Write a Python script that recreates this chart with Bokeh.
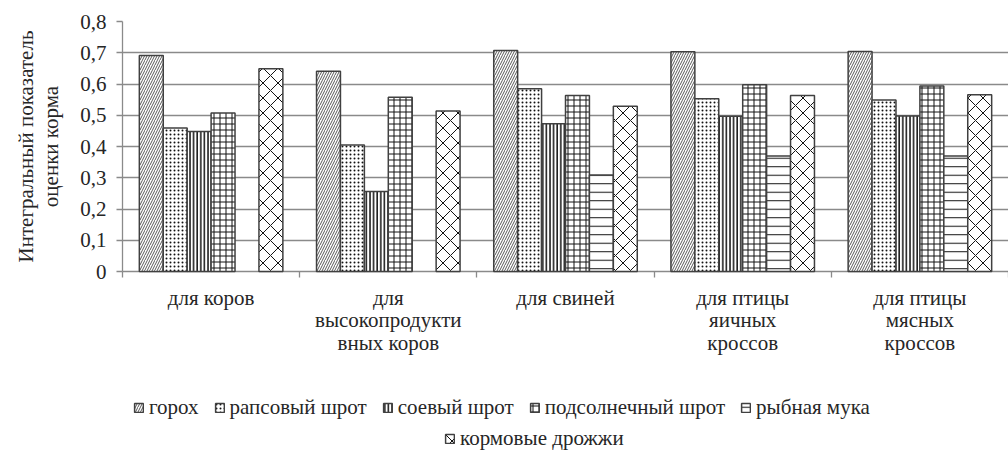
import numpy as np
from bokeh.plotting import figure
from bokeh.layouts import column
from bokeh.models import (Range1d, FixedTicker, CustomJSTickFormatter, Legend, LegendItem,
                          ColumnDataSource, CDSView, IndexFilter)
from bokeh.embed import file_html
from bokeh.resources import INLINE

# ---- data ----
categories = ["для коров", "для\nвысокопродукти\nвных коров", "для свиней",
              "для птицы\nяичных\nкроссов", "для птицы\nмясных\nкроссов"]
series_names = ["горох", "рапсовый шрот", "соевый шрот", "подсолнечный шрот",
                "рыбная мука", "кормовые дрожжи"]
gorokh = [0.691, 0.641, 0.707, 0.703, 0.704]
raps = [0.459, 0.405, 0.585, 0.553, 0.549]
soya = [0.448, 0.256, 0.473, 0.497, 0.498]
podsoln = [0.507, 0.558, 0.563, 0.598, 0.594]
ryba = [np.nan, np.nan, 0.309, 0.370, 0.370]
drozhzhi = [0.649, 0.514, 0.529, 0.563, 0.566]
y_ticks = [0, 0.1, 0.2, 0.3, 0.4, 0.5, 0.6, 0.7, 0.8]

series_values = [gorokh, raps, soya, podsoln, ryba, drozhzhi]
hatches = [
    dict(hatch_pattern="right_diagonal_line", hatch_scale=5, hatch_weight=0.7),
    dict(hatch_pattern="dot", hatch_scale=4, hatch_weight=1.2),
    dict(hatch_pattern="vertical_line", hatch_scale=3.6, hatch_weight=1.5),
    dict(hatch_pattern="cross", hatch_scale=6, hatch_weight=1.0),
    dict(hatch_pattern="horizontal_line", hatch_scale=8.5, hatch_weight=1.0),
    dict(hatch_pattern="diagonal_cross", hatch_scale=15, hatch_weight=1.0),
]

FONT = "Liberation Serif"
TXT = "#262626"
GRID = "#8a8a8a"
BAR_STYLE = dict(fill_color="white", line_color="#404040", line_width=1.5, hatch_color="#111111")

n_cat = len(categories)
bar_w = 0.135

p = figure(width=1008, height=390, x_range=Range1d(0, n_cat), y_range=Range1d(0, 0.8),
           output_backend="svg", toolbar_location=None,
           min_border_left=122, min_border_right=0, min_border_top=21, min_border_bottom=119)
p.outline_line_color = None
p.background_fill_color = "white"

sources = []
for j, (name, vals, h) in enumerate(zip(series_names, series_values, hatches)):
    xs = np.arange(n_cat) + 0.5 + (j - 2.5) * bar_w
    src = ColumnDataSource(dict(x=xs, top=np.array(vals, dtype=float)))
    sources.append(src)
    r = p.vbar(x="x", top="top", bottom=0, width=bar_w, source=src, **BAR_STYLE, **h)
    r.level = "overlay"   # hatched bars painted on their own layer, after the texts

# y axis
p.yaxis.ticker = FixedTicker(ticks=y_ticks)
p.yaxis.formatter = CustomJSTickFormatter(
    code="if (Math.abs(tick) < 1e-9) return '0'; return tick.toFixed(1).replace('.', ',');")
p.yaxis.axis_label = "Интегральный показатель\nоценки корма"
p.yaxis.axis_label_text_font = FONT
p.yaxis.axis_label_text_font_style = "normal"
p.yaxis.axis_label_text_font_size = "21px"
p.yaxis.axis_label_text_color = TXT
p.yaxis.axis_label_text_line_height = 1.05
p.yaxis.axis_label_standoff = 14
p.yaxis.major_label_text_font = FONT
p.yaxis.major_label_text_font_size = "21px"
p.yaxis.major_label_text_color = TXT
p.yaxis.major_label_standoff = 10
p.yaxis.major_tick_out = 6
p.yaxis.major_tick_in = 0
p.yaxis.minor_tick_out = 0
p.yaxis.minor_tick_in = 0
p.yaxis.axis_line_color = GRID
p.yaxis.axis_line_width = 1.3
p.yaxis.major_tick_line_color = GRID
p.yaxis.major_tick_line_width = 1.3

# x axis: labels at category centres, ticks at boundaries
p.xaxis.ticker = FixedTicker(ticks=[i + 0.5 for i in range(n_cat)],
                             minor_ticks=list(range(n_cat + 1)))
p.xaxis.major_label_overrides = {i + 0.5: c for i, c in enumerate(categories)}
p.xaxis.major_label_text_font = FONT
p.xaxis.major_label_text_font_size = "21px"
p.xaxis.major_label_text_color = TXT
p.xaxis.major_label_text_line_height = 0.95
p.xaxis.major_label_standoff = 8
p.xaxis.major_tick_out = 0
p.xaxis.major_tick_in = 0
p.xaxis.minor_tick_out = 6
p.xaxis.minor_tick_in = 0
p.xaxis.minor_tick_line_color = GRID
p.xaxis.minor_tick_line_width = 1.3
p.xaxis.axis_line_color = GRID
p.xaxis.axis_line_width = 1.3

p.xgrid.grid_line_color = None
p.ygrid.ticker = FixedTicker(ticks=y_ticks)
p.ygrid.grid_line_color = GRID
p.ygrid.grid_line_width = 1.3

# ---- legend strip ----
q = figure(width=1008, height=62, x_range=Range1d(0, n_cat), y_range=Range1d(0, 0.8),
           output_backend="svg", toolbar_location=None, min_border=0)
q.outline_line_color = None
q.axis.visible = False
q.grid.visible = False
text_renderers, glyph_renderers = [], []
for src, h in zip(sources, hatches):
    text_renderers.append(q.vbar(x="x", top="top", bottom=0, width=bar_w, source=src,
                                 view=CDSView(filter=IndexFilter(indices=[])),
                                 **BAR_STYLE, **h))
    g = q.vbar(x="x", top="top", bottom=0, width=bar_w, source=src, **BAR_STYLE, **h)
    g.visible = False
    glyph_renderers.append(g)

def make_legend(items, loc, text_alpha, level):
    return Legend(items=items, location=loc, orientation="horizontal",
                  glyph_width=11, glyph_height=11, label_standoff=5, spacing=15,
                  padding=0, margin=0, border_line_alpha=0, background_fill_alpha=0,
                  label_text_font=FONT, label_text_font_size="21px", label_text_color=TXT,
                  label_text_alpha=text_alpha, label_height=22, level=level)

rows = [(list(range(5)), (11, 32)), ([5], (322, 1))]
# labels (no hatch) on the main layer, hatched keys on the overlay layer
for idx, loc in rows:
    q.add_layout(make_legend([LegendItem(label=series_names[k], renderers=[text_renderers[k]])
                              for k in idx], loc, 1.0, "annotation"))
for idx, loc in rows:
    q.add_layout(make_legend([LegendItem(label=series_names[k], renderers=[glyph_renderers[k]])
                              for k in idx], loc, 0.0, "overlay"))

layout = column(p, q, spacing=0)
open("out.html", "w").write(file_html(layout, INLINE))
